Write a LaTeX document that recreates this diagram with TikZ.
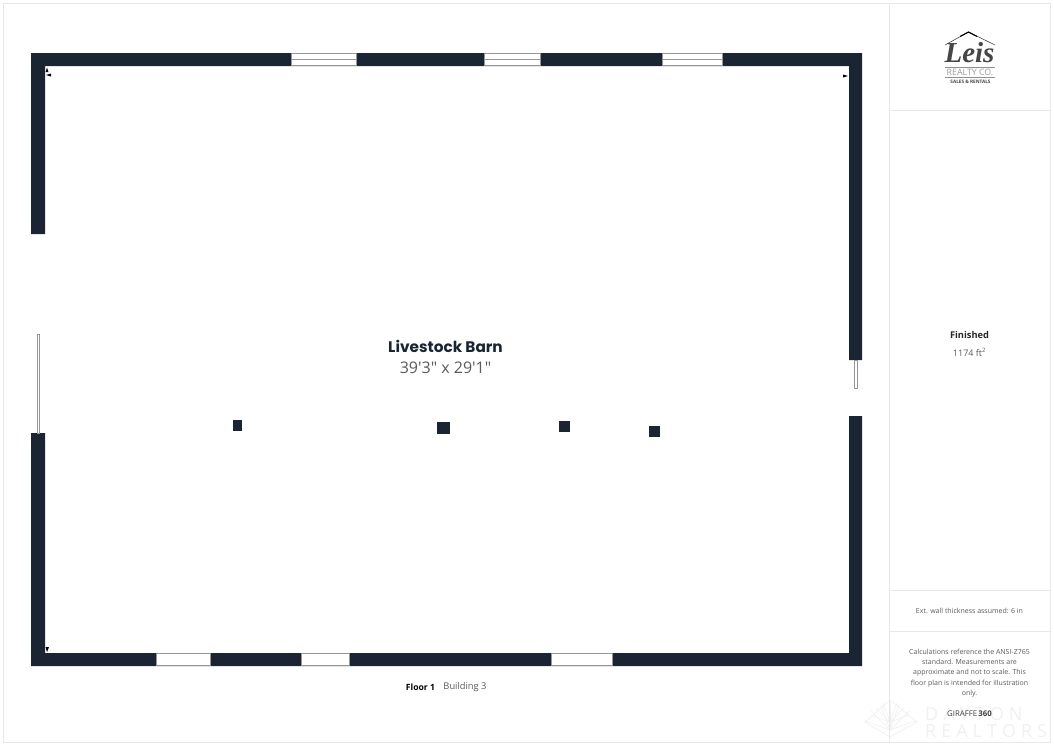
\documentclass[tikz,border=0pt]{standalone}
\usepackage{fontspec}
\setmainfont{Open Sans}
\newfontfamily\titlefont{Poppins}
\newfontfamily\sizefont{Open Sans}
\newfontfamily\logofont{Liberation Serif}
\definecolor{wallcolor}{RGB}{26,36,50}
\definecolor{framecolor}{RGB}{232,232,232}
\definecolor{glasscolor}{RGB}{150,150,150}
\definecolor{sidetext}{RGB}{90,90,90}
\definecolor{logocolor}{RGB}{70,70,70}
\definecolor{markcolor}{RGB}{240,240,240}

\begin{document}
\begin{tikzpicture}[yscale=-1
,framestyle/.style={draw=framecolor,line width=1pt}
,wallstyle/.style={fill=wallcolor,draw=none}
,windowstyle/.style={fill=white,draw=glasscolor,line width=0.7pt}
,smalltext/.style={color=sidetext,font=\fontsize{7}{10.4}\selectfont,align=center,inner sep=0pt}
,tickstyle/.style={fill=black,draw=none}
,markstyle/.style={color=markcolor,font=\fontsize{18}{18}\selectfont,inner sep=0pt,anchor=west}
]
\useasboundingbox (0pt,0pt) rectangle (1054pt,745pt);
% watermark
\foreach \a in {-70,-45,-20,0,20,45,70}{
\draw[markcolor,line width=0.7pt] (890pt,730pt) -- ++(\a-90:27pt);
\draw[markcolor,line width=0.7pt] (890pt,722pt) -- ++(\a-90:20pt);
}
\draw[markcolor,line width=0.7pt] (865pt,722pt) -- (890pt,700pt) -- (917pt,722pt) -- (890pt,737pt) -- cycle;
\node[markstyle] (markone) at (925pt,714pt){D\hspace{5pt}A\hspace{5pt}Y\hspace{5pt}T\hspace{5pt}O\hspace{5pt}N};
\node[markstyle] (marktwo) at (925pt,731.5pt){R\hspace{5pt}E\hspace{5pt}A\hspace{5pt}L\hspace{5pt}T\hspace{5pt}O\hspace{5pt}R\hspace{5pt}S};
% page frame
\draw[framestyle] (3pt,3pt) rectangle (1050pt,742pt);
\draw[framestyle] (889pt,3pt) -- (889pt,742pt);
\draw[framestyle] (889pt,110pt) -- (1050pt,110pt);
\draw[framestyle] (889pt,590pt) -- (1050pt,590pt);
\draw[framestyle] (889pt,631pt) -- (1050pt,631pt);
% walls
\fill[wallstyle] (31pt,234pt) -- (31pt,53pt) -- (862pt,53pt) -- (862pt,360pt) -- (849pt,360pt) -- (849pt,66pt) -- (45pt,66pt) -- (45pt,234pt) -- cycle;
\fill[wallstyle] (31pt,433pt) -- (45pt,433pt) -- (45pt,653pt) -- (849pt,653pt) -- (849pt,416pt) -- (862pt,416pt) -- (862pt,666pt) -- (31pt,666pt) -- cycle;
% top windows
\foreach \xa/\xb in {291/356,484/540,662/722}{
\draw[windowstyle] (\xa pt,53.5pt) rectangle (\xb pt,65.5pt);
\draw[glasscolor,line width=0.8pt] (\xa pt,59.5pt) -- (\xb pt,59.5pt);
}
% bottom windows
\foreach \xa/\xb in {156/210,301/349,551/612}{
\draw[windowstyle] (\xa pt,653.5pt) rectangle (\xb pt,665.5pt);
}
% doors
\draw[fill=white,draw=glasscolor,line width=0.8pt] (37pt,334.5pt) rectangle (39.5pt,433pt);
\draw[fill=white,draw=glasscolor,line width=0.8pt] (854.5pt,360pt) rectangle (857pt,388pt);
% columns
\fill[wallstyle] (233pt,420pt) rectangle (241.5pt,430.5pt);
\fill[wallstyle] (437pt,422pt) rectangle (450pt,434pt);
\fill[wallstyle] (559pt,421pt) rectangle (570pt,432pt);
\fill[wallstyle] (649pt,425.5pt) rectangle (660pt,437pt);
% corner marks
\fill[tickstyle] (45.5pt,72pt) -- (48.5pt,72pt) -- (47pt,67.5pt) -- cycle;
\fill[tickstyle] (46pt,75pt) -- (51pt,73.5pt) -- (51pt,76.5pt) -- cycle;
\fill[tickstyle] (843pt,74.5pt) -- (843pt,77.5pt) -- (848pt,76pt) -- cycle;
\fill[tickstyle] (45.5pt,647pt) -- (49pt,647pt) -- (47pt,652pt) -- cycle;
% labels
\node (roomname) at (445.5pt,346.5pt)[font=\titlefont\fontsize{15.3}{18}\selectfont\bfseries,color=wallcolor]{Livestock Barn};
\node (roomsize) at (445.5pt,368pt)[font=\sizefont\fontsize{16}{18}\selectfont,color=sidetext]{39'3" x 29'1"};
\node (floorname) at (420.5pt,687.5pt)[font=\fontsize{8.6}{10}\selectfont\bfseries,color=black]{Floor 1};
\node (buildname) at (465pt,687.5pt)[font=\fontsize{9.3}{10}\selectfont,color=sidetext]{Building 3};
\node (finished) at (969.5pt,335pt)[font=\fontsize{9.3}{10}\selectfont\bfseries,color=black!85]{Finished};
\node (area) at (969.5pt,352pt)[font=\fontsize{9}{10}\selectfont,color=sidetext]{1174 ft\textsuperscript{2}};
\node (thickness) at (969.5pt,610.5pt)[smalltext]{Ext. wall thickness assumed: 6 in};
\node (notes) at (969.5pt,673pt)[smalltext]{Calculations reference the ANSI-Z765\\standard. Measurements are\\approximate and not to scale. This\\floor plan is intended for illustration\\only.};
\node (giraffe) at (969.5pt,714pt)[font=\fontsize{7.8}{8}\selectfont,color=black!75]{GIRAFFE\,\textbf{360}};
% logo
\draw[logocolor,line width=0.6pt] (945pt,45pt) -- (968.5pt,32pt) -- (995pt,45pt);
\draw[black,line width=1.1pt] (960pt,36.5pt) -- (968.5pt,32pt) -- (977pt,36.5pt);
\node (logoname) at (969.5pt,52.5pt)[font=\logofont\fontsize{29}{29}\selectfont\bfseries\itshape,color=logocolor]{Leis};
\draw[logocolor!60,line width=0.4pt] (945pt,67.5pt) -- (995pt,67.5pt);
\node (logoline) at (970pt,72pt)[font=\fontsize{8.8}{8.8}\selectfont,color=sidetext!60,inner sep=0pt]{REALTY CO.};
\draw[logocolor!60,line width=0.4pt] (945pt,76.7pt) -- (995pt,76.7pt);
\node (logotag) at (970.5pt,81.5pt)[font=\fontsize{4.7}{5}\selectfont\bfseries,color=logocolor,inner sep=0pt]{SALES \& RENTALS};
\end{tikzpicture}
\end{document}
